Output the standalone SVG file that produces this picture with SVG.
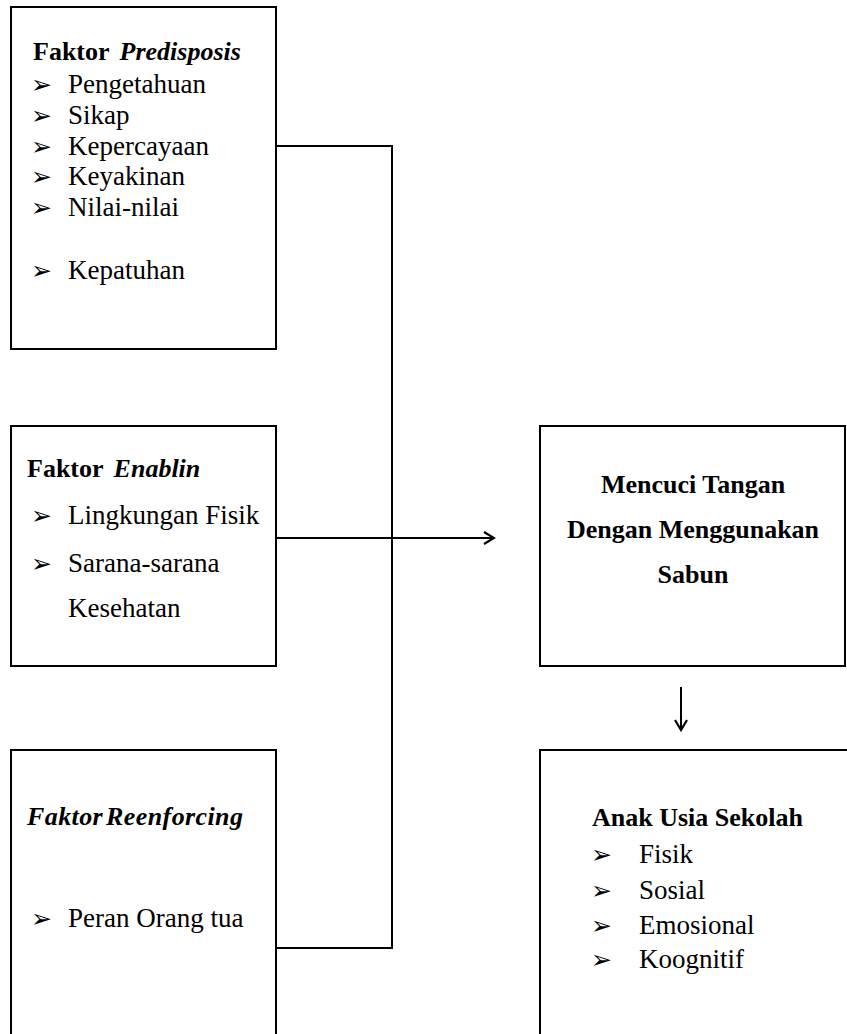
<svg xmlns="http://www.w3.org/2000/svg" width="847" height="1034" viewBox="0 0 847 1034">
<style>
.box{fill:#fff;stroke:#000;stroke-width:2}
.t{font-family:"Liberation Serif","Times New Roman",serif;font-size:27px;fill:#000}
.b{font-weight:bold;font-size:26px}
.i{font-style:italic}
.bl{font-family:"DejaVu Sans",sans-serif;font-size:25px;fill:#000}
.c{fill:none;stroke:#000;stroke-width:2}
</style>
<defs>
<marker id="arr" viewBox="0 0 14 14" refX="12" refY="7" markerWidth="14" markerHeight="14" markerUnits="userSpaceOnUse" orient="auto">
<path d="M2,1 L12,7 L2,13" fill="none" stroke="#000" stroke-width="2.2"/>
</marker>
</defs>
<rect width="847" height="1034" fill="#fff"/>
<g id="connectors">
<polyline class="c" points="276,146 392,146 392,948 276,948"/>
<line class="c" x1="276" y1="538" x2="494" y2="538" marker-end="url(#arr)"/>
<line class="c" x1="681" y1="687" x2="681" y2="730" marker-end="url(#arr)"/>
</g>
<g id="predisposis">
<rect class="box" x="11" y="7" width="265" height="342"/>
<text class="t b" x="33" y="60">Faktor <tspan class="i" dx="4">Predisposis</tspan></text>
<text class="bl" x="31" y="93">➢</text><text class="t" x="68" y="93">Pengetahuan</text>
<text class="bl" x="31" y="124">➢</text><text class="t" x="68" y="124">Sikap</text>
<text class="bl" x="31" y="155">➢</text><text class="t" x="68" y="155">Kepercayaan</text>
<text class="bl" x="31" y="185">➢</text><text class="t" x="68" y="185">Keyakinan</text>
<text class="bl" x="31" y="216">➢</text><text class="t" x="68" y="216">Nilai-nilai</text>
<text class="bl" x="31" y="279">➢</text><text class="t" x="68" y="279">Kepatuhan</text>
</g>
<g id="enablin">
<rect class="box" x="11" y="426" width="265" height="240"/>
<text class="t b" x="27" y="477">Faktor <tspan class="i" dx="4">Enablin</tspan></text>
<text class="bl" x="31" y="524">➢</text><text class="t" x="68" y="524">Lingkungan Fisik</text>
<text class="bl" x="31" y="572">➢</text><text class="t" x="68" y="572">Sarana-sarana</text>
<text class="t" x="68" y="617">Kesehatan</text>
</g>
<g id="reenforcing">
<rect class="box" x="11" y="750" width="265" height="300"/>
<text class="t b i" x="27" y="825" letter-spacing="0.4">Faktor<tspan dx="3">Reenforcing</tspan></text>
<text class="bl" x="31" y="927">➢</text><text class="t" x="68" y="927">Peran Orang tua</text>
</g>
<g id="mencuci">
<rect class="box" x="540" y="426" width="305" height="240"/>
<text class="t b" x="693" y="493" text-anchor="middle">Mencuci Tangan</text>
<text class="t b" x="693" y="538" text-anchor="middle">Dengan Menggunakan</text>
<text class="t b" x="693" y="583" text-anchor="middle">Sabun</text>
</g>
<g id="anak">
<rect class="box" x="540" y="750" width="320" height="300"/>
<text class="t b" x="592" y="826">Anak Usia Sekolah</text>
<text class="bl" x="591" y="863">➢</text><text class="t" x="639" y="863">Fisik</text>
<text class="bl" x="591" y="899">➢</text><text class="t" x="639" y="899">Sosial</text>
<text class="bl" x="591" y="934">➢</text><text class="t" x="639" y="934">Emosional</text>
<text class="bl" x="591" y="968">➢</text><text class="t" x="639" y="968">Koognitif</text>
</g>
</svg>
